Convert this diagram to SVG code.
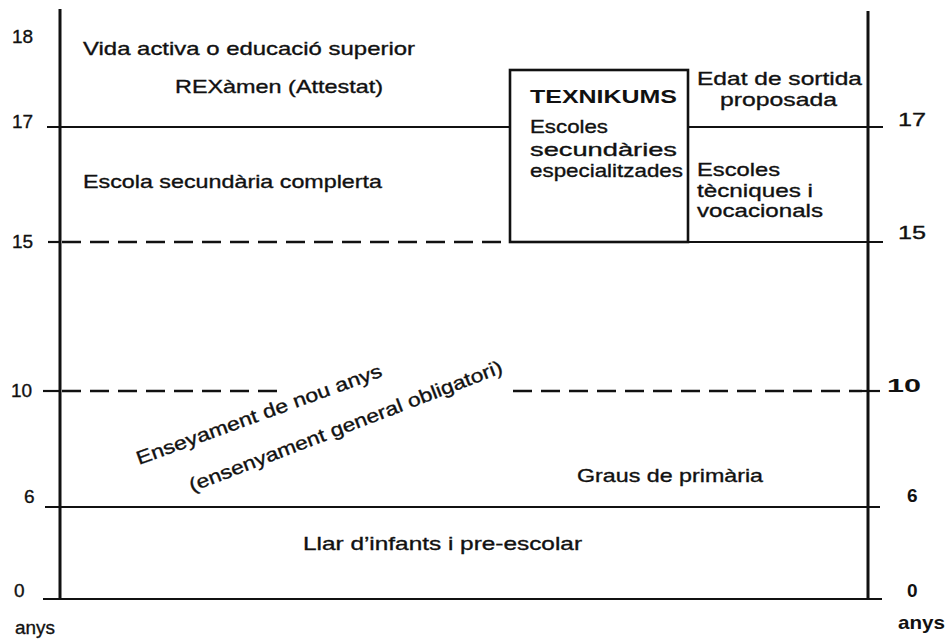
<svg xmlns="http://www.w3.org/2000/svg" width="949" height="641" viewBox="0 0 949 641">
<style>
text{font-family:"Liberation Sans",Arial,sans-serif;font-size:19px;fill:#111;stroke:#111;stroke-width:0.35}
.b{font-weight:bold;stroke-width:0}
.ax{stroke:#111;stroke-width:3;fill:none}
.ln{stroke:#111;stroke-width:2.2;fill:none}
.dash{stroke:#111;stroke-width:2.6;fill:none;stroke-dasharray:19 9}
</style>
<rect width="949" height="641" fill="#fff"/>
<g id="connectors">
<line class="ax" x1="60" y1="9" x2="60" y2="600"/>
<line class="ax" x1="868" y1="11" x2="868" y2="600"/>
<line class="ln" x1="47" y1="127" x2="510" y2="127"/>
<line class="ln" x1="688" y1="127" x2="883" y2="127"/>
<line class="ln" x1="48" y1="242" x2="60" y2="242"/>
<line class="dash" x1="62" y1="242" x2="505" y2="242"/>
<line class="ln" x1="688" y1="242" x2="883" y2="242"/>
<line class="ln" x1="43" y1="391" x2="60" y2="391"/>
<line class="dash" x1="62" y1="391" x2="285" y2="391"/>
<line class="dash" x1="513" y1="391" x2="862" y2="391"/>
<line class="ln" x1="862" y1="391" x2="880" y2="391"/>
<line class="ln" x1="45" y1="507" x2="880" y2="507"/>
<line class="ln" x1="43" y1="599" x2="882" y2="599"/>
</g>
<g id="texnikums">
<rect x="510" y="70" width="178" height="172" fill="none" stroke="#111" stroke-width="2.6"/>
<text x="530" y="103" class="b" textLength="147" lengthAdjust="spacingAndGlyphs">TEXNIKUMS</text>
<text x="530" y="133" textLength="78" lengthAdjust="spacingAndGlyphs">Escoles</text>
<text x="530" y="156" textLength="147" lengthAdjust="spacingAndGlyphs">secundàries</text>
<text x="530" y="177" textLength="153" lengthAdjust="spacingAndGlyphs">especialitzades</text>
</g>
<g id="vida-activa">
<text x="83" y="55" textLength="332" lengthAdjust="spacingAndGlyphs">Vida activa o educació superior</text>
<text x="175" y="93" textLength="208" lengthAdjust="spacingAndGlyphs">REXàmen (Attestat)</text>
</g>
<g id="escola-secundaria">
<text x="83" y="188" textLength="299" lengthAdjust="spacingAndGlyphs">Escola  secundària complerta</text>
</g>
<g id="edat-sortida">
<text x="697" y="85" textLength="165" lengthAdjust="spacingAndGlyphs">Edat de sortida</text>
<text x="720" y="106" textLength="117" lengthAdjust="spacingAndGlyphs">proposada</text>
</g>
<g id="escoles-tecniques">
<text x="697" y="176" textLength="83" lengthAdjust="spacingAndGlyphs">Escoles</text>
<text x="697" y="197" textLength="116" lengthAdjust="spacingAndGlyphs">tècniques i</text>
<text x="697" y="217" textLength="126" lengthAdjust="spacingAndGlyphs">vocacionals</text>
</g>
<g id="ensenyament">
<text x="139" y="465" transform="rotate(-20 139 465)" textLength="260" lengthAdjust="spacingAndGlyphs">Enseyament de nou anys</text>
<text x="192" y="492" transform="rotate(-21 192 492)" textLength="334" lengthAdjust="spacingAndGlyphs">(ensenyament general obligatori)</text>
</g>
<g id="graus-primaria">
<text x="577" y="482" textLength="186" lengthAdjust="spacingAndGlyphs">Graus de primària</text>
</g>
<g id="llar-infants">
<text x="303" y="550" textLength="279" lengthAdjust="spacingAndGlyphs">Llar d’infants i pre-escolar</text>
</g>
<g id="axis-left">
<text x="12" y="43">18</text>
<text x="12" y="128">17</text>
<text x="12" y="248">15</text>
<text x="11" y="397">10</text>
<text x="24" y="503">6</text>
<text x="14" y="597">0</text>
<text x="15" y="634" textLength="40" lengthAdjust="spacingAndGlyphs">anys</text>
</g>
<g id="axis-right">
<text x="898" y="126" textLength="28" lengthAdjust="spacingAndGlyphs">17</text>
<text x="898" y="239" textLength="28" lengthAdjust="spacingAndGlyphs">15</text>
<text x="887" y="392" class="b" textLength="34" lengthAdjust="spacingAndGlyphs">10</text>
<text x="907" y="502" class="b">6</text>
<text x="907" y="597" class="b">0</text>
<text x="898" y="629" class="b" textLength="47" lengthAdjust="spacingAndGlyphs">anys</text>
</g>
</svg>
